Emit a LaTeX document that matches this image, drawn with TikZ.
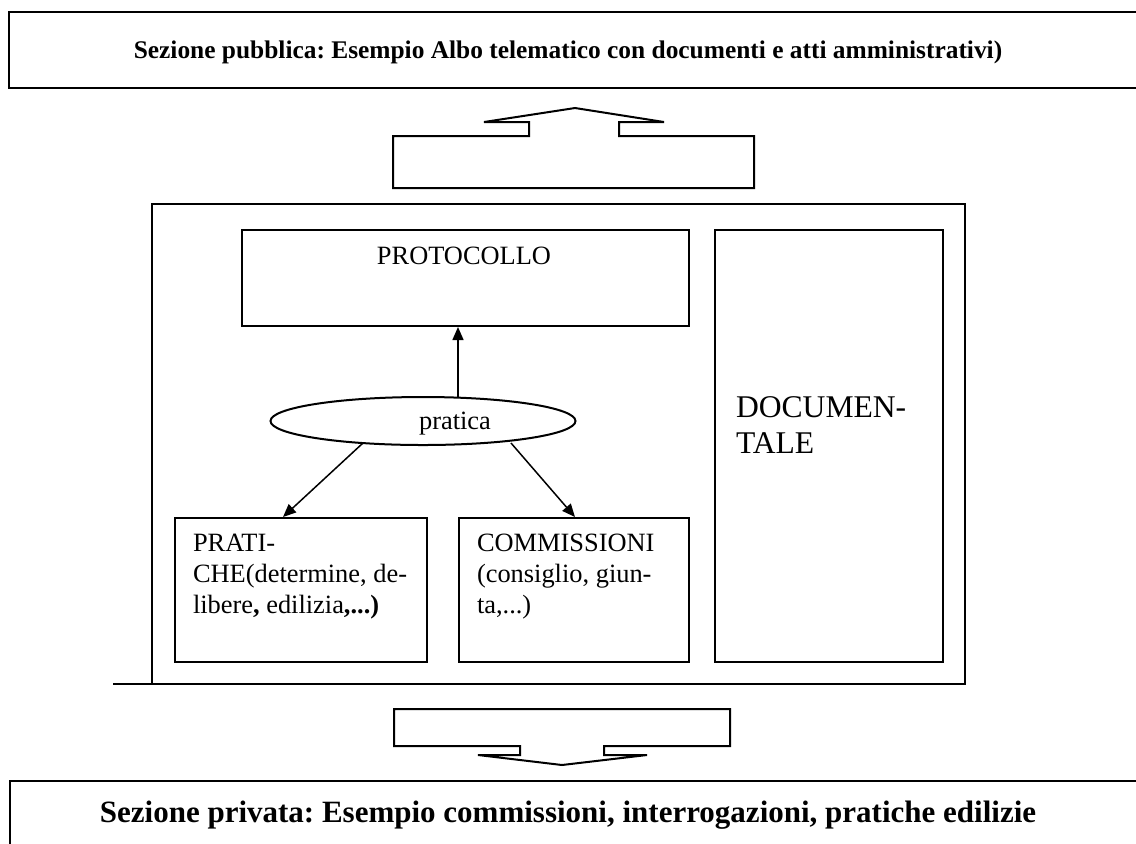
\documentclass[tikz,border=0pt]{standalone}
\usepackage{fontspec}
\setmainfont{Liberation Serif}
\usetikzlibrary{shapes.geometric,arrows.meta}
\frenchspacing
\begin{document}
\begin{tikzpicture}[x=0.5pt,y=-0.5pt,
  line width=1pt,
  boxnode/.style={draw,line width=1pt,rectangle,inner sep=0pt,anchor=north west},
  bodytext/.style={font=\fontsize{13.2}{15.5}\selectfont,inner sep=0pt,align=left,anchor=north west},
  conn/.style={line width=0.75pt,-{Triangle[length=6.5pt,width=5.5pt]}}]
\useasboundingbox (0,0) rectangle (1136,843);
\fill[white] (0,0) rectangle (1136,843);
\begin{scope}
\clip (0,0) rectangle (1136,843);
% top box (open at right)
\draw[line width=1.2pt] (1150,12) -- (9,12) -- (9,88) -- (1150,88);
\node[font=\bfseries\fontsize{12.7}{14}\selectfont,inner sep=0pt,anchor=base] (pub) at (568,58)
  {Sezione pubblica: Esempio Albo telematico con documenti e atti amministrativi)};
% bottom box (open at right and bottom)
\draw[line width=1.2pt] (1150,781) -- (10,781) -- (10,850);
\node[font=\bfseries\fontsize{15.5}{18}\selectfont,inner sep=0pt,anchor=base] (priv) at (568,822)
  {Sezione privata: Esempio commissioni, interrogazioni, pratiche edilizie};
\end{scope}
% up arrow
\draw[line width=1pt,line join=miter] (393,188) -- (393,136) -- (529,136) -- (529,122) -- (484,122)
  -- (575,108) -- (664,122) -- (619,122) -- (619,136) -- (754,136) -- (754,188) -- cycle;
% down arrow
\draw[line width=1pt,line join=miter] (394,709) -- (730,709) -- (730,746) -- (604,746) -- (604,755)
  -- (647,755) -- (562,765) -- (478,755) -- (520,755) -- (520,746) -- (394,746) -- cycle;
% main frame
\draw (113,684) -- (965,684) -- (965,204) -- (152,204) -- (152,684);
% inner boxes
\node[boxnode,minimum width=223.5pt,minimum height=48pt] (proto) at (241,229) {};
\node[bodytext,anchor=base] (prototxt) at (464,264) {PROTOCOLLO};
\node[boxnode,minimum width=114pt,minimum height=216pt] (docu) at (714,229) {};
\node[bodytext,font=\fontsize{15.8}{18}\selectfont,anchor=north west] (docutxt) at (735,396) {DOCUMEN-\\TALE};
\node[boxnode,minimum width=126pt,minimum height=72pt] (prat) at (174,517) {};
\node[bodytext] (prattxt) at (192,533.5) {PRATI-\\CHE(determine, de-\\libere\textbf{,} edilizia\textbf{,...)}};
\node[boxnode,minimum width=115pt,minimum height=72pt] (comm) at (458,517) {};
\node[bodytext] (commtxt) at (476,533.5) {COMMISSIONI\\(consiglio, giun-\\ta,...)};
\node[draw,ellipse,line width=1pt,minimum width=152.5pt,minimum height=24pt,inner sep=0pt] (prat0) at (423,421) {};
\node[bodytext,anchor=base] (prat0txt) at (455,429) {pratica};
% connectors
\coordinate (upstart) at (458,397);
\coordinate (lstart) at (363,443);
\coordinate (rstart) at (511,443);
\draw[conn] (upstart) -- (upstart |- proto.south);
\draw[conn] (lstart) -- (prat.north -| 283,0);
\draw[conn] (rstart) -- (comm.north -| 575,0);
\end{tikzpicture}
\end{document}
